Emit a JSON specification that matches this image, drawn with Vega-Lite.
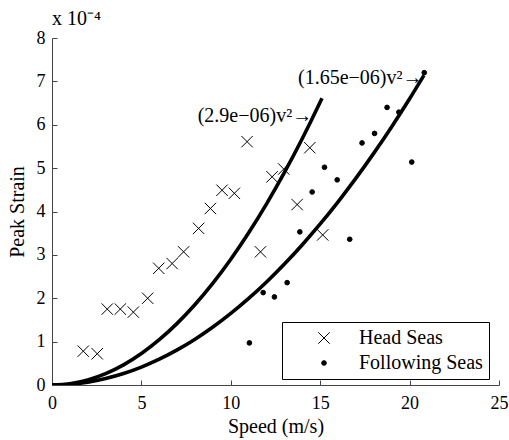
{
  "$schema": "https://vega.github.io/schema/vega-lite/v6.json",
  "width": 447,
  "height": 347,
  "autosize": "none",
  "padding": {"left": 52, "top": 38, "right": 10, "bottom": 55},
  "background": "white",
  "title": {"text": "x 10⁻⁴", "anchor": "start", "frame": "group", "offset": 0, "font": "Liberation Serif", "fontSize": 20, "fontWeight": "normal", "color": "black"},
  "config": {
    "view": {"stroke": null},
    "font": "Liberation Serif",
    "axis": {"grid": false, "domainColor": "#444", "tickColor": "#444", "labelFlush": false, "labelFont": "Liberation Serif", "labelFontSize": 18, "labelColor": "black", "titleFont": "Liberation Serif", "titleFontSize": 20, "titleFontWeight": "normal", "titleColor": "black"},
    "legend": {"orient": "none", "legendX": 230, "legendY": 284, "padding": 6, "strokeColor": "black", "fillColor": "white", "labelFont": "Liberation Serif", "labelFontSize": 20, "labelColor": "black", "labelOffset": 25, "symbolOffset": 26, "rowPadding": 5, "symbolStrokeColor": "black", "symbolStrokeWidth": 1}
  },
  "resolve": {"axis": {"x": "independent", "y": "independent"}},
  "datasets": {
    "curves": [
      {"curve": "c1", "speed": 0, "strain": 0},
      {"curve": "c1", "speed": 1, "strain": 0.029},
      {"curve": "c1", "speed": 2, "strain": 0.116},
      {"curve": "c1", "speed": 3, "strain": 0.261},
      {"curve": "c1", "speed": 4, "strain": 0.464},
      {"curve": "c1", "speed": 5, "strain": 0.725},
      {"curve": "c1", "speed": 6, "strain": 1.044},
      {"curve": "c1", "speed": 7, "strain": 1.421},
      {"curve": "c1", "speed": 8, "strain": 1.856},
      {"curve": "c1", "speed": 9, "strain": 2.349},
      {"curve": "c1", "speed": 10, "strain": 2.9},
      {"curve": "c1", "speed": 11, "strain": 3.509},
      {"curve": "c1", "speed": 12, "strain": 4.176},
      {"curve": "c1", "speed": 13, "strain": 4.901},
      {"curve": "c1", "speed": 14, "strain": 5.684},
      {"curve": "c1", "speed": 15, "strain": 6.525},
      {"curve": "c1", "speed": 15.1, "strain": 6.612},
      {"curve": "c2", "speed": 0, "strain": 0},
      {"curve": "c2", "speed": 1, "strain": 0.0165},
      {"curve": "c2", "speed": 2, "strain": 0.066},
      {"curve": "c2", "speed": 3, "strain": 0.1485},
      {"curve": "c2", "speed": 4, "strain": 0.264},
      {"curve": "c2", "speed": 5, "strain": 0.4125},
      {"curve": "c2", "speed": 6, "strain": 0.594},
      {"curve": "c2", "speed": 7, "strain": 0.8085},
      {"curve": "c2", "speed": 8, "strain": 1.056},
      {"curve": "c2", "speed": 9, "strain": 1.3365},
      {"curve": "c2", "speed": 10, "strain": 1.65},
      {"curve": "c2", "speed": 11, "strain": 1.9965},
      {"curve": "c2", "speed": 12, "strain": 2.376},
      {"curve": "c2", "speed": 13, "strain": 2.7885},
      {"curve": "c2", "speed": 14, "strain": 3.234},
      {"curve": "c2", "speed": 15, "strain": 3.7125},
      {"curve": "c2", "speed": 16, "strain": 4.224},
      {"curve": "c2", "speed": 17, "strain": 4.7685},
      {"curve": "c2", "speed": 18, "strain": 5.346},
      {"curve": "c2", "speed": 19, "strain": 5.9565},
      {"curve": "c2", "speed": 20, "strain": 6.6},
      {"curve": "c2", "speed": 20.8, "strain": 7.1386}
    ],
    "pts": [
      {"series": "Head Seas", "speed": 1.75, "strain": 0.78},
      {"series": "Head Seas", "speed": 2.53, "strain": 0.72},
      {"series": "Head Seas", "speed": 3.09, "strain": 1.75},
      {"series": "Head Seas", "speed": 3.82, "strain": 1.75},
      {"series": "Head Seas", "speed": 4.55, "strain": 1.68},
      {"series": "Head Seas", "speed": 5.35, "strain": 2.0},
      {"series": "Head Seas", "speed": 5.97, "strain": 2.69},
      {"series": "Head Seas", "speed": 6.72, "strain": 2.8},
      {"series": "Head Seas", "speed": 7.36, "strain": 3.07},
      {"series": "Head Seas", "speed": 8.2, "strain": 3.61},
      {"series": "Head Seas", "speed": 8.86, "strain": 4.07},
      {"series": "Head Seas", "speed": 9.51, "strain": 4.49},
      {"series": "Head Seas", "speed": 10.2, "strain": 4.42},
      {"series": "Head Seas", "speed": 10.91, "strain": 5.61},
      {"series": "Head Seas", "speed": 11.66, "strain": 3.07},
      {"series": "Head Seas", "speed": 12.31, "strain": 4.8},
      {"series": "Head Seas", "speed": 12.96, "strain": 4.98},
      {"series": "Head Seas", "speed": 13.71, "strain": 4.16},
      {"series": "Head Seas", "speed": 14.42, "strain": 5.47},
      {"series": "Head Seas", "speed": 15.14, "strain": 3.46},
      {"series": "Following Seas", "speed": 11.04, "strain": 0.97},
      {"series": "Following Seas", "speed": 11.81, "strain": 2.13},
      {"series": "Following Seas", "speed": 12.44, "strain": 2.03},
      {"series": "Following Seas", "speed": 13.15, "strain": 2.36},
      {"series": "Following Seas", "speed": 13.86, "strain": 3.53},
      {"series": "Following Seas", "speed": 14.55, "strain": 4.45},
      {"series": "Following Seas", "speed": 15.24, "strain": 5.02},
      {"series": "Following Seas", "speed": 15.95, "strain": 4.73},
      {"series": "Following Seas", "speed": 16.65, "strain": 3.36},
      {"series": "Following Seas", "speed": 17.34, "strain": 5.58},
      {"series": "Following Seas", "speed": 18.04, "strain": 5.8},
      {"series": "Following Seas", "speed": 18.74, "strain": 6.4},
      {"series": "Following Seas", "speed": 19.4, "strain": 6.29},
      {"series": "Following Seas", "speed": 20.12, "strain": 5.14},
      {"series": "Following Seas", "speed": 20.82, "strain": 7.2}
    ],
    "labels": [
      {"text": "(2.9e−06)v²→", "speed": 14.55, "strain": 6.2},
      {"text": "(1.65e−06)v²→", "speed": 20.72, "strain": 7.07}
    ]
  },
  "layer": [
    {
      "data": {"name": "curves"},
      "mark": {"type": "line", "color": "black", "strokeWidth": 3.6, "interpolate": "monotone", "clip": true},
      "encoding": {
        "x": {"field": "speed", "type": "quantitative", "scale": {"domain": [0, 25], "nice": false}, "axis": {"orient": "bottom", "title": "Speed (m/s)", "values": [0, 5, 10, 15, 20, 25], "ticks": false, "labelPadding": 9, "titlePadding": 4}},
        "y": {"field": "strain", "type": "quantitative", "scale": {"domain": [0, 8], "nice": false}, "axis": {"orient": "left", "title": "Peak Strain", "values": [0, 1, 2, 3, 4, 5, 6, 7, 8], "ticks": false, "labelPadding": 7, "titlePadding": 9}},
        "detail": {"field": "curve"}
      }
    },
    {
      "data": {"name": "pts"},
      "mark": {"type": "point", "filled": true, "strokeWidth": 1, "opacity": 1},
      "encoding": {
        "x": {"field": "speed", "type": "quantitative", "axis": {"orient": "bottom", "offset": -5, "tickSize": 5, "domain": false, "labels": false, "title": null, "values": [0, 5, 10, 15, 20, 25]}},
        "y": {"field": "strain", "type": "quantitative", "axis": {"orient": "left", "offset": -5, "tickSize": 5, "domain": false, "labels": false, "title": null, "values": [0, 1, 2, 3, 4, 5, 6, 7, 8]}},
        "shape": {"field": "series", "type": "nominal", "scale": {"domain": ["Head Seas", "Following Seas"], "range": ["M-1,-1L1,1M-1,1L1,-1", "circle"]}, "legend": {"title": null, "labelExpr": "datum.label + '\u00a0\u00a0\u00a0\u00a0\u00a0\u00a0'"}},
        "fill": {"field": "series", "type": "nominal", "scale": {"domain": ["Head Seas", "Following Seas"], "range": ["transparent", "black"]}, "legend": {"title": null, "labelExpr": "datum.label + '\u00a0\u00a0\u00a0\u00a0\u00a0\u00a0'"}},
        "stroke": {"field": "series", "type": "nominal", "scale": {"domain": ["Head Seas", "Following Seas"], "range": ["black", "black"]}, "legend": {"title": null, "labelExpr": "datum.label + '\u00a0\u00a0\u00a0\u00a0\u00a0\u00a0'"}},
        "size": {"field": "series", "type": "nominal", "scale": {"domain": ["Head Seas", "Following Seas"], "range": [130, 22]}, "legend": {"title": null, "labelExpr": "datum.label + '\u00a0\u00a0\u00a0\u00a0\u00a0\u00a0'"}}
      }
    },
    {
      "data": {"name": "labels"},
      "mark": {"type": "text", "align": "right", "baseline": "middle", "font": "Liberation Serif", "fontSize": 20, "color": "black"},
      "encoding": {
        "x": {"field": "speed", "type": "quantitative", "axis": null},
        "y": {"field": "strain", "type": "quantitative", "axis": null},
        "text": {"field": "text"}
      }
    }
  ]
}
